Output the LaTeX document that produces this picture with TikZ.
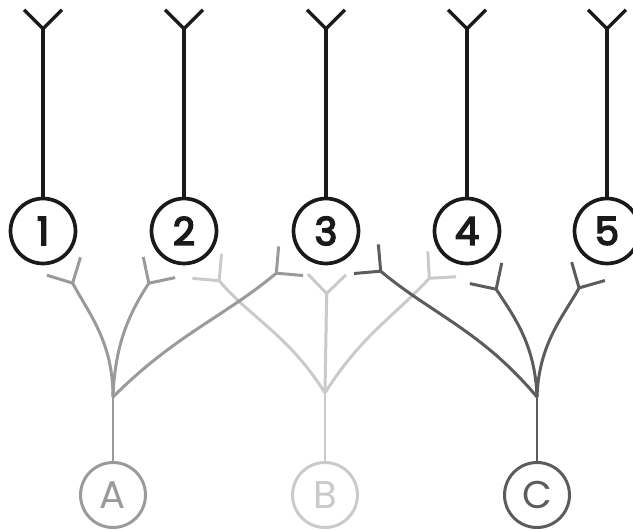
\documentclass[tikz,border=0pt]{standalone}
\usepackage{fontspec}
\setmainfont{Poppins}
\newfontfamily\portfont{Poppins}[FakeBold=4]
\usetikzlibrary{arrows.meta}
\definecolor{inkdark}{HTML}{1A1A1A}
\definecolor{greyA}{HTML}{9A9A9A}
\definecolor{greyB}{HTML}{CACACA}
\definecolor{greyC}{HTML}{5C5C5C}
\tikzset{
  port/.style={circle, draw, line width=2.1pt, minimum size=1.3cm, inner sep=0pt,
    font=\fontsize{22}{22}\selectfont},
  fork/.style={-{Straight Barb[reversed, length=3.8mm, width=7.6mm]}},
  wire/.style={fork, line width=1.7pt},
}
\begin{document}
\begin{tikzpicture}[x=0.02cm, y=0.02cm]
  \useasboundingbox (0,0) rectangle (633,529);
  % numbered ports with their antennas
  \foreach \n/\x in {1/43, 2/184, 3/326, 4/467, 5/607}{%
    \node[port, text=inkdark, draw=inkdark, font=\portfont\fontsize{22}{22}\selectfont]
      (n\n) at (\x,298) {\n};
    \coordinate (t\n) at (\x,521);
    \draw[fork, inkdark, line width=2pt] (n\n) -- (t\n);}
  % lettered sources and their stems
  \foreach \s/\x/\y/\col in {B/325/136/greyB, A/113/132/greyA, C/537/132/greyC}{%
    \node[port, line width=1.7pt, draw=\col, text=\col] (\s) at (\x,34) {\s};
    \coordinate (\s j) at (\x,\y);
    \draw[\col, line width=1.7pt] (\s) -- (\s j);}
  % receptor ends under the ports
  \coordinate (rA1) at (63,264);
  \coordinate (rA2) at (160,263);
  \coordinate (rA3) at (292,269);
  \coordinate (rB2) at (206,264);
  \coordinate (rB3) at (327,256);
  \coordinate (rB4) at (443,266);
  \coordinate (rC3) at (365,271);
  \coordinate (rC4) at (485,257);
  \coordinate (rC5) at (589,259);
  \draw[wire, greyB] (Bj) to[out=122, in=310] (rB2);
  \draw[wire, greyB] (Bj) -- (rB3);
  \draw[wire, greyB] (Bj) to[out=58, in=228] (rB4);
  \draw[wire, greyA] (Aj) to[out=90, in=298] (rA1);
  \draw[wire, greyA] (Aj) to[out=88, in=237] (rA2);
  \draw[wire, greyA] (Aj) to[out=45, in=220] (rA3);
  \draw[wire, greyC] (Cj) to[out=130, in=320] (rC3);
  \draw[wire, greyC] (Cj) to[out=92, in=303] (rC4);
  \draw[wire, greyC] (Cj) to[out=88, in=241] (rC5);
\end{tikzpicture}
\end{document}
